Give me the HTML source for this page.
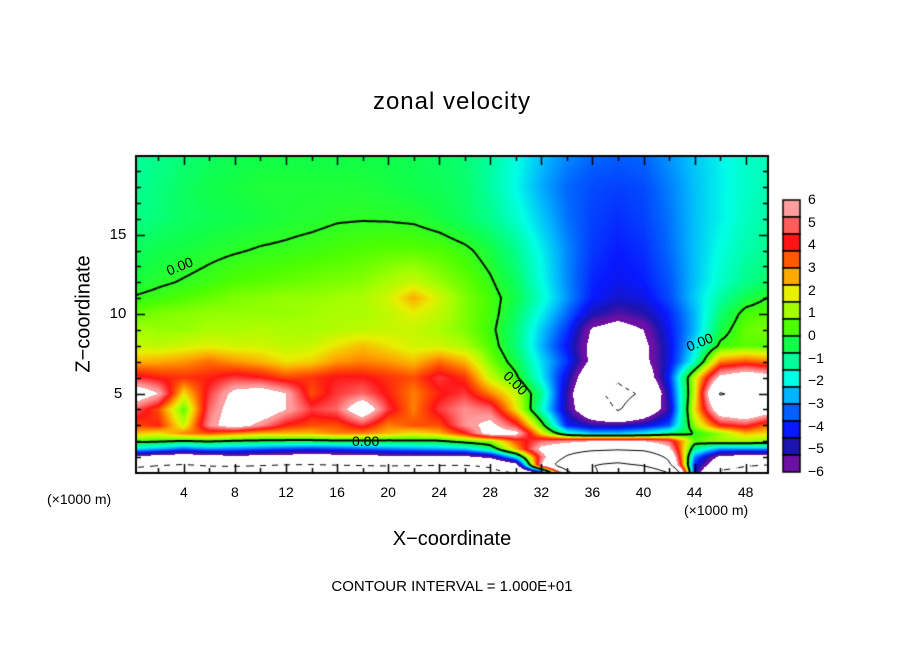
<!DOCTYPE html>
<html><head><meta charset="utf-8">
<style>
html,body{margin:0;padding:0;background:#fff;}
#wrap{position:relative;width:904px;height:654px;overflow:hidden;font-family:"Liberation Sans",sans-serif;color:#000;}
.t{position:absolute;white-space:nowrap;}
</style></head><body>
<div id="wrap">
<div class="t" style="left:0;width:904px;text-align:center;top:88px;font-size:24px;letter-spacing:1px;">zonal velocity</div>
<div class="t" style="left:84px;top:314px;font-size:20px;transform:translate(-50%,-50%) rotate(-90deg);">Z−coordinate</div>
<div class="t" style="left:0;width:904px;text-align:center;top:528px;font-size:20px;">X−coordinate</div>
<div class="t" style="left:47px;top:491px;font-size:14px;">(×1000 m)</div>
<div class="t" style="left:684px;top:502px;font-size:14px;">(×1000 m)</div>
<div class="t" style="left:0;width:904px;text-align:center;top:578px;font-size:15px;">CONTOUR INTERVAL = 1.000E+01</div>
<canvas id="cv" width="904" height="654" style="position:absolute;left:0;top:0;"></canvas>
<div id="labels"></div>
</div>
<script>
const xs=[0,2,4,6,8,10,12,14,16,18,20,22,24,26,28,30,32,34,36,38,40,42,44,46,48,50];
const zs=[0,0.5,1,1.5,2,2.5,3,4,5,6,7,8,9,10,11,12,14,16,18,20];
const u_z0=[-12,-12.5,-13,-12.5,-12.5,-12.5,-13,-13,-12.5,-12.5,-12.5,-12.5,-12.5,-12,-11,-10,-6,8,18,28,30,20,-4.5,-11,-12,-12];
const u_z05=[-9,-9.8,-10.2,-9.6,-9.5,-9.8,-10.1,-10.2,-10,-9.8,-9.7,-9.8,-9.9,-10,-9.5,-7,6,14,20,22,19,11,-4,-8,-9.6,-10.2];
const u_z1=[-6.5,-7,-7.5,-7,-6.5,-6.8,-7,-7.2,-7,-6.8,-6.6,-6.5,-6.5,-6.5,-5.5,-2,5,10.5,14,15,14,9,-3,-6.5,-7,-7];
const u_z15=[-2.2,-2.8,-3.5,-3.0,-3.2,-3.5,-3.8,-4.0,-3.8,-3.5,-3.2,-3.0,-2.8,-2.5,-1,2.5,6.5,8,9,9.5,9,6.5,-1,-3,-3,-3];
const u_z2=[0.3,0.2,-0.1,0.1,-0.2,-0.3,-0.4,-0.4,-0.3,-0.3,-0.3,-0.2,-0.2,0.5,1,3.5,5,5.5,6,6,6,5,0.5,1,1,0.8];
const u_z25=[2.5,2,3,3.5,3,2.5,2.5,2.5,3,3,2.5,2,2.5,4,7,6.5,2,-1.5,-2.5,-2.5,-2,-1,0,1,2.5,2];
const u_z3=[3.5,4,1.5,5.5,7,5.5,4,3.5,3.5,4.5,3,3.5,3.5,5.5,6.5,4.5,0.5,-4,-5,-5,-4.5,-3.5,1,4,4.5,3];
const u_z4=[5,3.5,0.5,5,7,7.5,6,4.5,5,7.5,4.5,3,4.5,5.5,5,2,-1.5,-5,-8,-10.3,-8,-5,2,7.5,8.5,7];
const u_z5=[7.5,6,2,4.5,6.5,7,6,3.5,4.5,5,4,3,4,4.5,3,1.5,-1,-5,-9.2,-11,-9.6,-4.5,1.5,10.3,9,7];
const u_z6=[4.5,4,3.8,4,4.5,4.2,3.6,3.8,4.2,4.2,3.8,3.5,4.5,3.8,1.5,0.2,-2,-4.5,-8,-9.5,-7.5,-4,1.5,6.5,7.5,6.8];
const u_z7=[2.5,2.6,2.8,3.2,2.8,2.5,2,2.2,2.8,3,2.8,2.4,3.2,2.5,0.8,-0.4,-2.2,-3.8,-6.5,-7.5,-6.5,-4.4,-1.6,3,3.5,3];
const u_z8=[1.5,1.4,1.6,1.8,1.6,1.6,1.4,1.5,2,2.4,2,1.6,1.6,1.2,0.4,-0.8,-2.6,-4.2,-6.5,-7.5,-6.4,-4.4,-2.2,0.2,0.5,0.4];
const u_z9=[1.2,1,1,1.2,1.2,1.3,1.2,1.2,1.3,1.4,1.5,1.5,1.2,0.8,0.2,-0.8,-2.4,-3.8,-6.2,-6.8,-6.0,-4.2,-2.6,-0.4,0.6,0.8];
const u_z10=[0.6,0.8,0.9,1,1,1,1,1.1,1.2,1.2,1.4,1.8,1.4,0.8,0.3,-0.6,-2,-3.3,-4.8,-5.4,-5.0,-4.0,-2.6,-0.8,0.3,0.5];
const u_z11=[0.05,0.2,0.4,0.6,0.8,0.9,1,1,1.1,1.2,1.6,2.6,1.6,0.8,0.3,-0.4,-1.6,-2.9,-4.1,-4.6,-4.4,-3.6,-2.4,-1.2,-0.4,0.1];
const u_z12=[-0.3,-0.1,0.05,0.2,0.4,0.5,0.6,0.7,0.8,0.9,1.2,1.5,1,0.6,0.1,-0.6,-1.8,-3.0,-4.0,-4.3,-4.1,-3.5,-2.5,-1.6,-1,-0.6];
const u_z14=[-0.6,-0.4,-0.3,-0.15,-0.05,0.05,0.1,0.2,0.3,0.4,0.5,0.5,0.4,0.15,-0.3,-1,-2,-3.0,-3.8,-4.1,-3.9,-3.3,-2.5,-1.8,-1.3,-1];
const u_z16=[-1,-0.8,-0.6,-0.5,-0.4,-0.3,-0.2,-0.15,-0.05,-0.03,-0.05,-0.1,-0.3,-0.6,-1,-1.6,-2.4,-3.2,-3.7,-3.9,-3.7,-3.2,-2.5,-2,-1.5,-1.2];
const u_z18=[-1.1,-0.9,-0.6,-0.4,-0.3,-0.2,-0.2,-0.2,-0.2,-0.2,-0.3,-0.4,-0.5,-0.7,-1.2,-1.9,-2.7,-3.3,-3.6,-3.7,-3.6,-3.1,-2.5,-2,-1.6,-1.3];
const u_z20=[-1.2,-1,-0.8,-0.6,-0.5,-0.4,-0.4,-0.4,-0.4,-0.4,-0.4,-0.5,-0.6,-0.8,-1.2,-1.8,-2.5,-3.0,-3.3,-3.4,-3.3,-2.9,-2.4,-2,-1.6,-1.4];
const rows=[u_z0,u_z05,u_z1,u_z15,u_z2,u_z25,u_z3,u_z4,u_z5,u_z6,u_z7,u_z8,u_z9,u_z10,u_z11,u_z12,u_z14,u_z16,u_z18,u_z20];
const cbLabels=["6","5","4","3","2","1","0","−1","−2","−3","−4","−5","−6"];
const cbColors=["#ff9c9c","#ff5c5c","#ff1414","#ff5a00","#ffa800","#e8f000","#a4ff00","#4cff00","#10ff48","#00ff98","#00ffe6","#00b4ff","#0060ff","#0818ff","#1c14b0","#6c10a4"];
const contourLevels=[-10,0,10,20,30];
const xTicks=[4,8,12,16,20,24,28,32,36,40,44,48];
const yTicks=[5,10,15];

const PL=136,PT=156,PW=632,PH=317,X0=0.25,X1=49.75,Z0=0,Z1=19.95;
const sx=x=>PL+(x-X0)/(X1-X0)*PW;
const sy=z=>PT+PH-(z-Z0)/(Z1-Z0)*PH;
function findIdx(arr,v){let i=0;while(i<arr.length-2&&arr[i+1]<v)i++;return i;}
function val(x,z){
  const i=findIdx(xs,x),j=findIdx(zs,z);
  let tx=(x-xs[i])/(xs[i+1]-xs[i]),tz=(z-zs[j])/(zs[j+1]-zs[j]);
  tx=Math.max(0,Math.min(1,tx));tz=Math.max(0,Math.min(1,tz));
  const a=rows[j][i],b=rows[j][i+1],c=rows[j+1][i],d=rows[j+1][i+1];
  return (a*(1-tx)+b*tx)*(1-tz)+(c*(1-tx)+d*tx)*tz;
}
function hex(h){return [parseInt(h.substr(1,2),16),parseInt(h.substr(3,2),16),parseInt(h.substr(5,2),16)];}
const rgb=cbColors.map(hex);
function colorOf(v){
  if(v>6||v<-6)return [255,255,255];
  let t=(6-v)/0.75-0.5; if(t<0)t=0; if(t>15)t=15;
  const k=Math.floor(t),f=t-k,k2=Math.min(15,k+1);
  return [0,1,2].map(q=>Math.round(rgb[k][q]*(1-f)+rgb[k2][q]*f));
}
const cv=document.getElementById('cv');const ctx=cv.getContext('2d');
const img=ctx.createImageData(PW,PH);
for(let py=0;py<PH;py++){const z=Z1-(py+0.5)/PH*(Z1-Z0);
  for(let px=0;px<PW;px++){const x=X0+(px+0.5)/PW*(X1-X0);const c=colorOf(val(x,z));
    const o=(py*PW+px)*4;img.data[o]=c[0];img.data[o+1]=c[1];img.data[o+2]=c[2];img.data[o+3]=255;}}
ctx.putImageData(img,PL,PT);
const CS=2;const nx=Math.ceil(PW/CS),nz=Math.ceil(PH/CS);
const G=[];for(let j=0;j<=nz;j++){G[j]=[];for(let i=0;i<=nx;i++){const x=X0+Math.min(i*CS,PW)/PW*(X1-X0);const z=Z1-Math.min(j*CS,PH)/PH*(Z1-Z0);G[j][i]=val(x,z);}}
ctx.save();ctx.beginPath();ctx.rect(PL,PT,PW,PH);ctx.clip();
contourLevels.forEach(L=>{
  ctx.strokeStyle='#000';ctx.lineWidth=(L===0)?2:1;
  for(let j=0;j<nz;j++)for(let i=0;i<nx;i++){
    const p=[[i,j,G[j][i]],[i+1,j,G[j][i+1]],[i+1,j+1,G[j+1][i+1]],[i,j+1,G[j+1][i]]];
    const pts=[];
    for(let e=0;e<4;e++){const A=p[e],B=p[(e+1)%4];
      if((A[2]-L)*(B[2]-L)<0){const t=(L-A[2])/(B[2]-A[2]);pts.push([PL+(A[0]+(B[0]-A[0])*t)*CS,PT+(A[1]+(B[1]-A[1])*t)*CS]);}}
    if(L<0&&Math.floor((i+j)/3)%2===1)continue;
    for(let k=0;k+1<pts.length;k+=2){ctx.beginPath();ctx.moveTo(pts[k][0],pts[k][1]);ctx.lineTo(pts[k+1][0],pts[k+1][1]);ctx.stroke();}
  }
});
ctx.restore();
ctx.strokeStyle='#000';ctx.lineWidth=2;ctx.strokeRect(PL,PT,PW,PH);
ctx.lineWidth=1.5;
for(let x=2;x<50;x+=2){const X=Math.round(sx(x))+0.5;const len=(x%4===0)?9:5;
  ctx.beginPath();ctx.moveTo(X,PT+PH);ctx.lineTo(X,PT+PH-len);ctx.moveTo(X,PT);ctx.lineTo(X,PT+len);ctx.stroke();}
for(let z=1;z<20;z++){const Y=Math.round(sy(z))+0.5;const len=(z%5===0)?9:5;
  ctx.beginPath();ctx.moveTo(PL,Y);ctx.lineTo(PL+len,Y);ctx.moveTo(PL+PW,Y);ctx.lineTo(PL+PW-len,Y);ctx.stroke();}
const CBX=783,CBT=200,CBB=472,bh=(CBB-CBT)/cbColors.length;
cbColors.forEach((c,k)=>{ctx.fillStyle=c;ctx.fillRect(CBX,CBT+k*bh,17,bh);ctx.strokeStyle='#000';ctx.lineWidth=1.5;ctx.strokeRect(CBX,CBT+k*bh,17,bh);});
const lab=document.getElementById('labels');
function addText(txt,x,y,name,style){const d=document.createElement('div');d.className='t';d.textContent=txt;d.style.cssText=style+'left:'+x+'px;top:'+y+'px;';
  
  
  lab.appendChild(d);}
xTicks.forEach(x=>addText(String(x),sx(x),484,'x-tick-label','font-size:14px;transform:translateX(-50%);'));
yTicks.forEach(z=>addText(String(z),118,sy(z)-9,'y-tick-label','font-size:15px;transform:translateX(-50%);'));
cbLabels.forEach((t,k)=>addText(t,808,CBT+k*(CBB-CBT)/12-9,'colorbar-label','font-size:14px;'));
[[182,266,-22],[368,441,0],[518,383,45],[702,342,-22]].forEach(a=>{
  const d=document.createElement('div');d.className='t';d.textContent='0.00';
  d.style.cssText='left:'+(a[0]-16)+'px;top:'+(a[1]-8)+'px;font-size:14px;transform:rotate('+a[2]+'deg);';
  
  
  lab.appendChild(d);});
</script>
</body></html>
